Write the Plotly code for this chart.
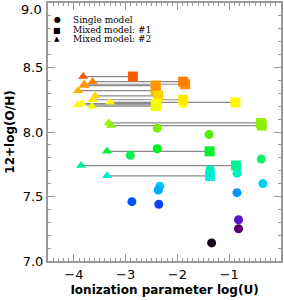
import plotly.graph_objects as go

# ---- data ----
single_logU = [-1.89, -2.39, -1.39, -2.39, -2.91, -0.38, -1.37, -0.85, -0.35,
               -2.34, -2.37, -0.85, -2.88, -2.36, -0.82, -0.82, -1.34]
single_oh = [8.22, 8.03, 7.98, 7.87, 7.82, 7.79, 7.71, 7.68, 7.60,
             7.58, 7.55, 7.53, 7.46, 7.44, 7.32, 7.25, 7.14]

# mixed model #2 (triangles) linked to mixed model #1 (squares)
mix2_logU = [-3.82, -3.80, -3.64, -3.92, -3.59, -3.64, -3.30, -3.85, -3.93, -3.65,
             -3.33, -3.28, -3.36, -3.86, -3.36, -3.80]
mix1_logU = [-2.86, -1.85, -1.89, -2.42, -2.37, -1.89, -0.88, -2.41, -2.41, -2.42,
             -0.39, -0.37, -1.38, -0.87, -1.37, -2.42]
mix_oh = [8.43, 8.37, 8.39, 8.32, 8.28, 8.25, 8.23, 8.22, 8.21, 8.20,
          8.07, 8.05, 7.85, 7.74, 7.66, 8.36]

y_tickvals = [7.0, 7.5, 8.0, 8.5, 9.0]
y_ticktext = ["7.0", "7.5", "8.0", "8.5", ""]
x_tickvals = [-4, -3, -2, -1, 0]

legend_labels = ["Single model", "Mixed model: #1", "Mixed model: #2"]
legend_symbols = ["\u25CF", "\u25A0", "\u25B2"]

# ---- colour scale (IDL-like rainbow on O/H) ----
cmin, cmax = 7.1, 8.5
stops = [(7.10, "#000000"), (7.25, "#560070"), (7.32, "#5a10cc"), (7.45, "#0048ff"),
         (7.53, "#0098ff"), (7.58, "#00c4ff"), (7.66, "#00ecd8"), (7.73, "#00f0a0"),
         (7.80, "#10f060"), (7.87, "#00f020"), (7.98, "#50f000"), (8.05, "#88f000"),
         (8.15, "#d8f400"), (8.22, "#ffff00"), (8.28, "#ffd400"), (8.32, "#ffb000"),
         (8.37, "#ff9000"), (8.43, "#ff5a00"), (8.50, "#ff2000")]
colorscale = [[(v - cmin) / (cmax - cmin), c] for v, c in stops]

fig = go.Figure()

# connecting lines
lx, ly = [], []
for a, b, y in zip(mix2_logU, mix1_logU, mix_oh):
    lx += [a, b, None]
    ly += [y, y, None]
fig.add_trace(go.Scatter(x=lx, y=ly, mode="lines", line=dict(color="#8a8a8a", width=1.2),
                         hoverinfo="skip", showlegend=False))

common = dict(colorscale=colorscale, cmin=cmin, cmax=cmax, line=dict(width=0))
fig.add_trace(go.Scatter(x=single_logU, y=single_oh, mode="markers", showlegend=False,
                         marker=dict(symbol="circle", size=9, color=single_oh, **common)))
fig.add_trace(go.Scatter(x=mix1_logU, y=mix_oh, mode="markers", showlegend=False,
                         marker=dict(symbol="square", size=10, color=mix_oh, **common)))
fig.add_trace(go.Scatter(x=mix2_logU, y=mix_oh, mode="markers", showlegend=False,
                         marker=dict(symbol="triangle-up", size=9, color=mix_oh, **common)))

axis_common = dict(showline=True, linecolor="#9a9a9a", linewidth=2, mirror="ticks",
                   ticks="inside", tickcolor="#9a9a9a", tickwidth=1, ticklen=7,
                   showgrid=False, zeroline=False,
                   tickfont=dict(family="DejaVu Sans", size=13, color="black"))

fig.update_layout(
    width=284, height=300,
    margin=dict(l=48, r=3, t=1, b=39),
    paper_bgcolor="white", plot_bgcolor="white",
    showlegend=False,
    xaxis=dict(range=[-4.5, 0], tickvals=x_tickvals,
               minor=dict(dtick=0.1, ticks="inside", ticklen=3, tickcolor="#9a9a9a"),
               title=dict(text="<b>Ionization parameter log(U)</b>", standoff=5,
                          font=dict(family="DejaVu Sans", size=12, color="black")),
               **axis_common),
    yaxis=dict(range=[7.0, 9.0], tickvals=y_tickvals, ticktext=y_ticktext,
               minor=dict(dtick=0.1, ticks="inside", ticklen=3, tickcolor="#9a9a9a"),
               title=dict(text="<b>12+log(O/H)</b>", standoff=6,
                          font=dict(family="DejaVu Sans", size=12, color="black")),
               **axis_common),
)

# top tick label (shifted down like the original)
fig.add_annotation(x=0, xref="paper", y=9.0, yref="y", text="9.0", showarrow=False,
                   xanchor="right", yanchor="middle", xshift=-4, yshift=-6,
                   font=dict(family="DejaVu Sans", size=13, color="black"))

# legend as text
rows_y = [0.936, 0.895, 0.859]
sym_sizes = [8, 8, 7]
for lab, sym, yy, ss in zip(legend_labels, legend_symbols, rows_y, sym_sizes):
    fig.add_annotation(x=0.039, xref="paper", y=yy, yref="paper", text=sym, showarrow=False,
                       xanchor="center", yanchor="middle",
                       font=dict(family="DejaVu Sans", size=ss, color="black"))
    fig.add_annotation(x=0.099, xref="paper", y=yy, yref="paper", text=lab, showarrow=False,
                       xanchor="left", yanchor="middle",
                       font=dict(family="DejaVu Serif", size=9, color="black"))

fig.write_html("out.html", config={"displayModeBar": False},
               post_script="document.body.style.margin='0';document.body.style.padding='0';")
